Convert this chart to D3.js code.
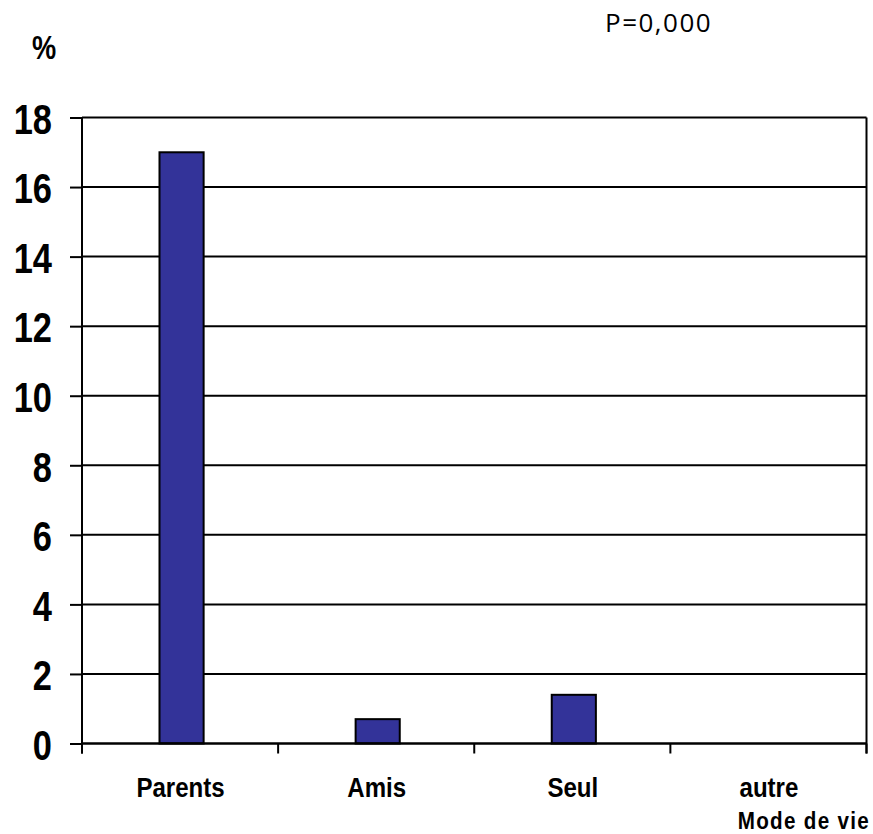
<!DOCTYPE html>
<html>
<head>
<meta charset="utf-8">
<script src="https://cdn.jsdelivr.net/npm/d3@7"></script>
<style>
  html, body { margin: 0; padding: 0; background: #fff; }
  svg { display: block; }
</style>
</head>
<body>
<svg id="chart" width="873" height="834"></svg>
<script>
const categories = ["Parents", "Amis", "Seul", "autre"];
const values = [17, 0.7, 1.4, 0];
const yTicks = [0, 2, 4, 6, 8, 10, 12, 14, 16, 18];
const yLabel = "%";
const xTitle = "Mode de vie";
const note = "P=0,000";

const svg = d3.select("#chart");
const pLeft = 82, pRight = 866.5, pTop = 117.5, pBottom = 743.5;

const x = d3.scaleBand().domain(categories).range([pLeft, pRight]);
const y = d3.scaleLinear().domain([0, 18]).range([pBottom, pTop]);

const sx = 0.82;

// gridlines
svg.append("g").selectAll("line")
  .data(yTicks.filter(d => d > 0))
  .join("line")
  .attr("x1", pLeft).attr("x2", pRight)
  .attr("y1", d => y(d)).attr("y2", d => y(d))
  .attr("stroke", "#000").attr("stroke-width", 2);

// right border
svg.append("line")
  .attr("x1", pRight).attr("x2", pRight)
  .attr("y1", pTop).attr("y2", pBottom + 10)
  .attr("stroke", "#000").attr("stroke-width", 2);

// bars
const barW = x.bandwidth() * 0.225;
svg.append("g").selectAll("rect")
  .data(categories.map((c, i) => ({c, v: values[i]})).filter(d => d.v > 0))
  .join("rect")
  .attr("x", d => x(d.c) + x.bandwidth() / 2 - barW / 2 + 1.5)
  .attr("width", barW)
  .attr("y", d => y(d.v))
  .attr("height", d => y(0) - y(d.v))
  .attr("fill", "#333399")
  .attr("stroke", "#000")
  .attr("stroke-width", 2);

// y axis
const yAxis = svg.append("g")
  .attr("transform", `translate(${pLeft},0)`)
  .call(d3.axisLeft(y).tickValues(yTicks).tickSize(12).tickFormat(d3.format("d")).tickPadding(0));
yAxis.select(".domain").attr("stroke", "#000").attr("stroke-width", 2).attr("d", `M0,${pTop}V${pBottom + 10}`);
yAxis.selectAll(".tick line").attr("stroke", "#000").attr("stroke-width", 2);
yAxis.selectAll(".tick text").each(function() {
  const t = d3.select(this);
  t.attr("x", null).attr("dy", null)
   .attr("text-anchor", "end")
   .attr("dominant-baseline", "central")
   .attr("transform", `translate(-30,1) scale(${sx},1)`)
   .attr("fill", "#000")
   .style("font-family", "'Liberation Sans', Arial, sans-serif")
   .style("font-weight", "bold")
   .style("font-size", "42px");
});

// x axis
const xAxis = svg.append("g")
  .attr("transform", `translate(0,${pBottom})`);
xAxis.append("line")
  .attr("x1", pLeft).attr("x2", pRight)
  .attr("stroke", "#000").attr("stroke-width", 2.5);
const bounds = categories.map(c => x(c)).concat([pRight]);
xAxis.selectAll("line.tk").data(bounds).join("line")
  .attr("class", "tk")
  .attr("x1", d => d).attr("x2", d => d)
  .attr("y1", 0).attr("y2", 10)
  .attr("stroke", "#000").attr("stroke-width", 2);
xAxis.selectAll("text").data(categories).join("text")
  .attr("transform", d => `translate(${x(d) + x.bandwidth() / 2 + 0.5},53) scale(0.86,1)`)
  .attr("text-anchor", "middle")
  .attr("fill", "#000")
  .style("font-family", "'Liberation Sans', Arial, sans-serif")
  .style("font-weight", "bold")
  .style("font-size", "28px")
  .text(d => d);

// x title
svg.append("text")
  .attr("transform", `translate(870,829) scale(0.86,1)`)
  .attr("text-anchor", "end")
  .attr("fill", "#000")
  .style("font-family", "'Liberation Sans', Arial, sans-serif")
  .style("font-weight", "bold")
  .style("font-size", "24px")
  .style("letter-spacing", "1.5px")
  .text(xTitle);

// y label
svg.append("text")
  .attr("transform", `translate(44,59) scale(0.8,1)`)
  .attr("text-anchor", "middle")
  .attr("fill", "#000")
  .style("font-family", "'Liberation Sans', Arial, sans-serif")
  .style("font-weight", "bold")
  .style("font-size", "34px")
  .text(yLabel);

// note
svg.append("text")
  .attr("x", 605).attr("y", 32)
  .attr("fill", "#000")
  .style("font-family", "'Open Sans', 'Noto Sans', sans-serif")
  .style("font-size", "26px")
  .style("letter-spacing", "1.5px")
  .text(note);
</script>
</body>
</html>
